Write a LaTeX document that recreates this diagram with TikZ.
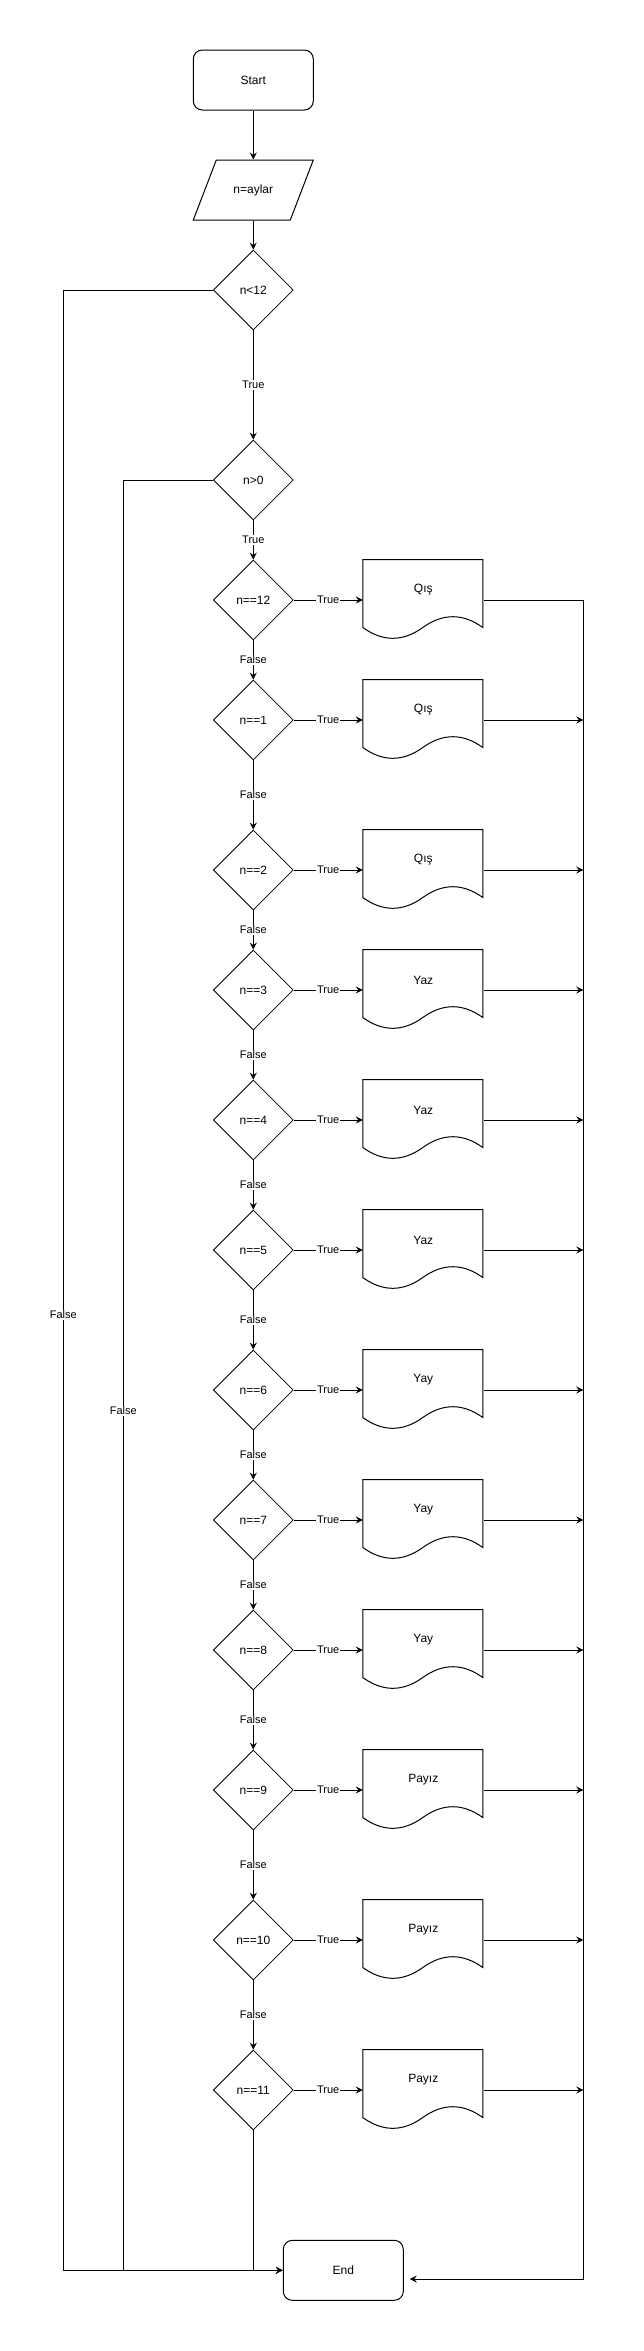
\documentclass[tikz,border=0pt]{standalone}
\usepackage{fontspec}
\setmainfont{Liberation Sans}
\usetikzlibrary{arrows.meta,shapes.geometric,calc}
\begin{document}
\begin{tikzpicture}[x=1pt,y=-1pt,
  line width=1pt,
  base/.style={font=\fontsize{12}{14}\selectfont, text=black},
  term/.style={base, draw, rounded corners=9pt, minimum width=120pt, minimum height=60pt, inner sep=0pt},
  dec/.style={base, draw, diamond, minimum width=80pt, minimum height=80pt, inner sep=0pt, line width=0.8pt},
  docbox/.style={base, minimum width=120pt, minimum height=80pt, inner sep=0pt},
  iobox/.style={base, minimum width=98pt, minimum height=60pt, inner sep=0pt},
  arr/.style={-{Stealth[length=7pt,width=7pt,inset=2.5pt]}},
  lbl/.style={font=\fontsize{11}{13}\selectfont, fill=white, inner sep=1pt},
  every label/.style={font=\fontsize{12}{14}\selectfont, text=black},
]
\fill[white] (0,0) rectangle (643,2351);
\useasboundingbox (0,0) rectangle (643,2351);

% terminals and input
\node[term] (Start) at (253.3,80) {Start};
\node[iobox] (inp) at (253.3,190) {n=aylar};
\draw[shift={(inp.center)}] (-60,30) -- (37,30) -- (60,-30) -- (-37,-30) -- cycle;
\node[term] (End) at (343.3,2270.3) {End};

% first decisions
\node[dec] (D0) at (253.3,290) {n<12};
\node[dec] (Dp) at (253.3,480) {n>0};

% month decisions and documents
\foreach \i/\y/\w in {12/600/Qış, 1/720/Qış, 2/870/Qış, 3/990/Yaz, 4/1120/Yaz, 5/1250/Yaz, 6/1390/Yay, 7/1520/Yay, 8/1650/Yay, 9/1790/Payız, 10/1940/Payız, 11/2090/Payız}{
  \node[dec] (D\i) at (253.3,\y) {n==\i};
  \node[docbox, label={[yshift=10pt]center:\w}] (P\i) at (423.3,\y) {};
  \draw[shift={(P\i.north west)}] (0,0) -- (120,0) -- (120,68)
     .. controls (100,53.6) and (80,53.6) .. (60,68)
     .. controls (40,82.4) and (20,82.4) .. (0,68) -- cycle;
  \draw[arr] (D\i) -- node[lbl]{True} (P\i);
}

\coordinate (R) at (583.3,600);
\coordinate (Lb) at (63.3,2270.3);
\coordinate (Lc) at (123.3,2270.3);

% main flow
\draw[arr] (Start) -- (inp);
\draw[arr] (inp) -- (D0);
\draw[arr] (D0) -- node[lbl]{True} (Dp);
\draw[arr] (Dp) -- node[lbl]{True} (D12);
\foreach \a/\b in {12/1,1/2,2/3,3/4,4/5,5/6,6/7,7/8,8/9,9/10,10/11}{
  \draw[arr] (D\a) -- node[lbl]{False} (D\b);
}

% false branches to End
\draw[arr] (D0.west) -| (Lb) -- (End.west);
\draw[arr] (Dp.west) -| (Lc) -- (End.west);
\draw (D11.south) -- (D11.south |- End.west);
\node[lbl] (f1) at (63.3,1315) {False};
\node[lbl] (f2) at (123.3,1411) {False};

% documents to right collector
\draw[arr] (P12.east) -- (P12.east -| R) |- ([xshift=6pt,yshift=-8.7pt]End.east);
\foreach \i in {1,2,3,4,5,6,7,8,9,10,11}{
  \draw[arr] (P\i.east) -- (P\i.east -| R);
}
\end{tikzpicture}
\end{document}
